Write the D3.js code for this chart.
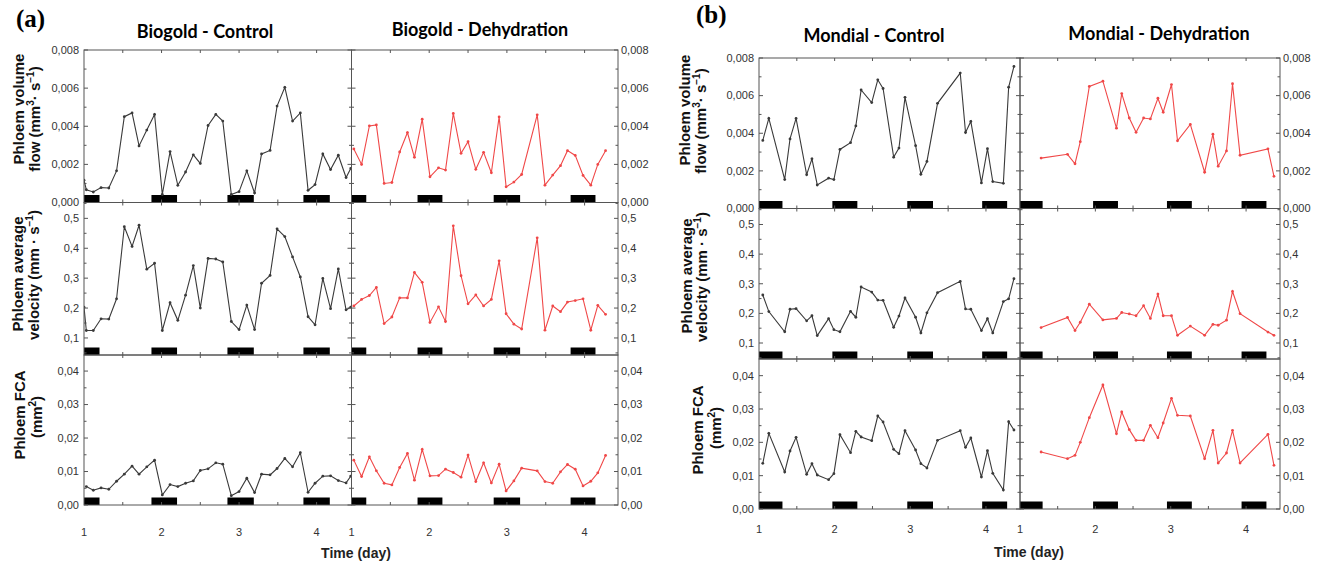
<!DOCTYPE html>
<html>
<head>
<meta charset="UTF-8">
<title>Phloem flow - Biogold / Mondial</title>
<script src="https://d3js.org/d3.v7.min.js"></script>
<style>
body { margin: 0; background: #fff; }
.tl { font-family: "Liberation Sans", Arial, sans-serif; font-size: 11px; fill: #333; }
.ylab { font-family: "Liberation Sans", Arial, sans-serif; font-weight: bold; font-size: 15px; fill: #111; }
.title { font-family: Lato, sans-serif; font-weight: bold; font-size: 18px; fill: #000; }
.panel { font-family: "Liberation Serif", "Times New Roman", serif; font-weight: bold; font-size: 25px; fill: #000; }
.xt { font-family: "Liberation Sans", Arial, sans-serif; font-weight: bold; font-size: 14px; fill: #222; }
</style>
</head>
<body>
<script>
// ---- data ----
// (a) Biogold - Control
var daysBioCtrl = [1.00,1.03,1.12,1.22,1.32,1.42,1.52,1.62,1.71,1.81,1.91,2.01,2.11,2.21,2.31,2.41,2.50,2.60,2.70,2.79,2.90,3.00,3.10,3.20,3.29,3.40,3.49,3.59,3.69,3.79,3.89,3.98,4.08,4.18,4.28,4.38,4.44];
var flowBioCtrl = [0.00117,0.00067,0.00055,0.00078,0.00076,0.00166,0.0045,0.0047,0.00297,0.0038,0.00462,0.00042,0.00267,0.0009,0.0016,0.0025,0.00205,0.00404,0.00462,0.00427,0.00042,0.00057,0.00166,0.0005,0.00255,0.00273,0.00506,0.00604,0.00427,0.0047,0.00064,0.00094,0.00255,0.00173,0.00248,0.00131,0.00179];
var velBioCtrl = [0.203,0.125,0.125,0.164,0.163,0.231,0.472,0.406,0.477,0.330,0.350,0.125,0.218,0.159,0.243,0.342,0.200,0.366,0.364,0.354,0.155,0.128,0.210,0.128,0.283,0.309,0.465,0.439,0.371,0.304,0.171,0.144,0.299,0.198,0.331,0.194,0.203];
var fcaBioCtrl = [null,0.0055,0.0044,0.0051,0.0047,0.0071,0.0092,0.0116,0.0092,0.0114,0.0134,0.0030,0.0061,0.0055,0.0065,0.0072,0.0103,0.0108,0.0126,0.0122,0.0028,0.0040,0.0080,0.0037,0.0092,0.0090,0.0109,0.0139,0.0114,0.0156,0.0038,0.0065,0.0086,0.0087,0.0073,0.0066,0.0086];

// (a) Biogold - Dehydration
var daysBioDehy = [1.03,1.13,1.23,1.32,1.42,1.52,1.62,1.72,1.81,1.91,2.01,2.12,2.21,2.31,2.41,2.50,2.60,2.70,2.80,2.90,2.99,3.09,3.19,3.39,3.49,3.59,3.69,3.78,3.88,3.98,4.08,4.17,4.27];
var flowBioDehy = [0.00281,0.0020,0.00402,0.00407,0.0010,0.00105,0.00265,0.00367,0.00237,0.00437,0.00135,0.00182,0.0017,0.00467,0.00258,0.00319,0.00174,0.00263,0.00156,0.00449,0.00082,0.00107,0.00147,0.0046,0.00091,0.00144,0.00193,0.00272,0.00247,0.00142,0.00091,0.0020,0.00272];
var velBioDehy = [0.207,0.229,0.242,0.269,0.148,0.170,0.234,0.234,0.319,0.286,0.152,0.204,0.155,0.475,0.308,0.214,0.244,0.207,0.229,0.358,0.181,0.146,0.130,0.435,0.126,0.207,0.188,0.220,0.225,0.231,0.126,0.209,0.179];
var fcaBioDehy = [0.0134,0.0085,0.0144,0.0102,0.0065,0.0060,0.0112,0.0154,0.0074,0.0166,0.0087,0.0088,0.0107,0.0097,0.0083,0.0149,0.0070,0.0126,0.0066,0.0122,0.0042,0.0072,0.0110,0.0102,0.0070,0.0065,0.0099,0.0121,0.0107,0.0057,0.0071,0.0096,0.0148];

// (b) Mondial - Control
var daysMonCtrl = [1.05,1.13,1.34,1.41,1.49,1.63,1.70,1.77,1.92,1.99,2.07,2.21,2.28,2.35,2.49,2.57,2.64,2.78,2.85,2.93,3.07,3.14,3.22,3.36,3.66,3.73,3.80,3.94,4.02,4.09,4.23,4.30,4.37];
var flowMonCtrl = [0.00362,0.00479,0.00154,0.0037,0.00479,0.0018,0.00264,0.00125,0.00161,0.00154,0.00314,0.0035,0.00439,0.0063,0.00563,0.00684,0.00638,0.00273,0.00321,0.00591,0.00334,0.00182,0.0025,0.00559,0.0072,0.00404,0.00463,0.00136,0.00318,0.00143,0.00134,0.00645,0.00755];
var velMonCtrl = [0.262,0.206,0.138,0.214,0.216,0.175,0.192,0.125,0.182,0.145,0.138,0.207,0.187,0.289,0.272,0.245,0.244,0.153,0.191,0.252,0.187,0.134,0.202,0.270,0.308,0.215,0.214,0.142,0.182,0.134,0.240,0.249,0.317];
var fcaMonCtrl = [0.0137,0.0227,0.0111,0.0174,0.0215,0.0104,0.0136,0.0102,0.0088,0.0106,0.0223,0.0169,0.0233,0.0216,0.0205,0.0279,0.0261,0.0179,0.0166,0.0235,0.0177,0.0136,0.0123,0.0206,0.0235,0.0185,0.0213,0.0096,0.0175,0.0107,0.0057,0.0262,0.0237];

// (b) Mondial - Dehydration
var daysMonDehy = [1.28,1.63,1.73,1.80,1.92,2.10,2.28,2.35,2.45,2.54,2.64,2.73,2.83,2.90,3.01,3.09,3.26,3.45,3.56,3.63,3.74,3.82,3.92,4.29,4.37];
var flowMonDehy = [0.00268,0.00288,0.00238,0.00355,0.00649,0.00677,0.00427,0.00611,0.00481,0.00405,0.00481,0.00476,0.00586,0.00512,0.00659,0.0036,0.00447,0.00193,0.00395,0.00225,0.00306,0.00663,0.00283,0.00317,0.00171];
var velMonDehy = [0.152,0.186,0.142,0.170,0.231,0.178,0.183,0.203,0.198,0.192,0.226,0.183,0.265,0.192,0.192,0.126,0.157,0.126,0.163,0.160,0.177,0.274,0.199,0.137,0.126];
var fcaMonDehy = [0.0171,0.0151,0.0161,0.0200,0.0274,0.0372,0.0226,0.0291,0.0238,0.0206,0.0206,0.0251,0.0214,0.0258,0.0332,0.0281,0.0279,0.0151,0.0236,0.0138,0.0168,0.0236,0.0138,0.0224,0.0131];

// night periods (black bars), in days
var nightsBioCtrl = [[0.85,1.20],[1.87,2.20],[2.85,3.19],[3.83,4.17]];
var nightsBioDehy = [[0.85,1.19],[1.85,2.17],[2.83,3.17],[3.82,4.14]];
var nightsMonCtrl = [[0.97,1.31],[1.97,2.30],[2.96,3.30],[3.95,4.28]];
var nightsMonDehy = [[0.97,1.30],[1.97,2.30],[2.95,3.28],[3.94,4.27]];

// ticks
var dayTicks = [1, 2, 3, 4];
var dayMinor = [1.5, 2.5, 3.5];
var flowTicks = [0, 0.002, 0.004, 0.006, 0.008];
var flowMinor = [0.001, 0.003, 0.005, 0.007];
var velTicks = [0.1, 0.2, 0.3, 0.4, 0.5];
var velMinor = [0.05, 0.15, 0.25, 0.35, 0.45, 0.55];
var fcaTicks = [0, 0.01, 0.02, 0.03, 0.04];
var fcaMinor = [0.005, 0.015, 0.025, 0.035];

var titles = ['Biogold - Control', 'Biogold - Dehydration', 'Mondial - Control', 'Mondial - Dehydration'];

var black = '#3a3a3a', red = '#f04848';

function commaFmt(spec) {
  var f = d3.format(spec);
  return function(v) { return f(v).replace('.', ','); };
}
var rowTicks = [
  {major: flowTicks, minor: flowMinor, fmt: commaFmt('.3f')},
  {major: velTicks, minor: velMinor, fmt: commaFmt('.1f')},
  {major: fcaTicks, minor: fcaMinor, fmt: commaFmt('.2f')}
];

var svg = d3.select('body').append('svg')
  .attr('width', 1322)
  .attr('height', 569)
  .style('background-color', '#fff');

var figA = {x0: 84, xm: 351.5, x1: 618, rows: [50, 202.5, 355, 505], xMaxL: 4.45, xMaxR: 4.43,
  yDomains: [[0, 0.008], [0.043, 0.553], [0, 0.0448]], xLabelY: 536};
var figB = {x0: 759, xm: 1020, x1: 1280, rows: [58, 208.5, 359, 509], xMaxL: 4.45, xMaxR: 4.45,
  yDomains: [[0, 0.008], [0.046, 0.554], [0, 0.045]], xLabelY: 533};

var clipN = 0;

function drawPlot(fig, side, days, series, color, nights) {
  var xa = side == 'left' ? fig.x0 : fig.xm;
  var xb = side == 'left' ? fig.xm : fig.x1;
  var x = d3.scaleLinear().domain([1, side == 'left' ? fig.xMaxL : fig.xMaxR]).range([xa, xb]);

  series.forEach(function(vals, i) {
    var top = fig.rows[i], bot = fig.rows[i + 1];
    var yd = fig.yDomains[i];
    var y = d3.scaleLinear().domain(yd).range([bot, top]);
    var inDom = function(v) { return v >= yd[0] - 1e-9 && v <= yd[1] + 1e-9; };
    var id = 'clip' + (clipN++);
    svg.append('clipPath').attr('id', id)
      .append('rect').attr('x', xa).attr('y', top).attr('width', xb - xa).attr('height', bot - top);

    var g = svg.append('g');
    var inner = g.append('g').attr('clip-path', 'url(#' + id + ')');

    inner.selectAll('rect.night')
      .data(nights)
      .enter().append('rect')
        .attr('class', 'night')
        .attr('x', d => x(d[0]))
        .attr('width', d => x(d[1]) - x(d[0]))
        .attr('y', bot - 7.5)
        .attr('height', 7.5)
        .attr('fill', '#000');

    var pts = days.map((d, k) => [d, vals[k]]).filter(p => p[1] != null);
    inner.append('path')
      .datum(pts)
      .attr('d', d3.line().x(p => x(p[0])).y(p => y(p[1])))
      .attr('fill', 'none')
      .attr('stroke', color)
      .attr('stroke-width', 1.1);
    inner.selectAll('circle')
      .data(pts)
      .enter().append('circle')
        .attr('cx', p => x(p[0]))
        .attr('cy', p => y(p[1]))
        .attr('r', 1.4)
        .attr('fill', color);

    // inward ticks on all four edges
    var tk = rowTicks[i];
    var major = tk.major.filter(inDom), minor = tk.minor.filter(inDom);
    var ticks = g.append('g').attr('stroke', '#555').attr('stroke-width', 1);
    [[xa, 1], [xb, -1]].forEach(function(e) {
      ticks.selectAll(null).data(major).enter().append('line')
        .attr('x1', e[0]).attr('x2', e[0] + e[1] * 4)
        .attr('y1', d => y(d)).attr('y2', d => y(d));
      ticks.selectAll(null).data(minor).enter().append('line')
        .attr('x1', e[0]).attr('x2', e[0] + e[1] * 2.5)
        .attr('y1', d => y(d)).attr('y2', d => y(d));
    });
    [[top, 1], [bot, -1]].forEach(function(e) {
      ticks.selectAll(null).data(dayTicks.concat(dayMinor).filter(d => x(d) > xa + 1 && x(d) < xb - 1)).enter().append('line')
        .attr('y1', e[0]).attr('y2', e[0] + e[1] * 3)
        .attr('x1', d => x(d)).attr('x2', d => x(d));
    });

    g.append('rect')
      .attr('x', xa).attr('y', top)
      .attr('width', xb - xa).attr('height', bot - top)
      .attr('fill', 'none')
      .attr('stroke', '#555')
      .attr('stroke-width', 1);

    // value labels: left of left plot, right of right plot
    g.selectAll('text.tl')
      .data(major)
      .enter().append('text')
        .attr('class', 'tl')
        .attr('x', side == 'left' ? xa - 5 : xb + 3)
        .attr('y', d => y(d))
        .attr('dy', '0.35em')
        .attr('text-anchor', side == 'left' ? 'end' : 'start')
        .text(tk.fmt);

    if (i == 2) {
      svg.selectAll(null)
        .data(dayTicks)
        .enter().append('text')
          .attr('class', 'tl')
          .attr('x', d => x(d))
          .attr('y', fig.xLabelY)
          .attr('text-anchor', 'middle')
          .text(d => d);
    }
  });
}

drawPlot(figA, 'left', daysBioCtrl, [flowBioCtrl, velBioCtrl, fcaBioCtrl], black, nightsBioCtrl);
drawPlot(figA, 'right', daysBioDehy, [flowBioDehy, velBioDehy, fcaBioDehy], red, nightsBioDehy);
drawPlot(figB, 'left', daysMonCtrl, [flowMonCtrl, velMonCtrl, fcaMonCtrl], black, nightsMonCtrl);
drawPlot(figB, 'right', daysMonDehy, [flowMonDehy, velMonDehy, fcaMonDehy], red, nightsMonDehy);

// titles
[[205, 38], [480, 36], [874, 42], [1159, 40]].forEach(function(p, i) {
  svg.append('text').attr('class', 'title')
    .attr('x', p[0]).attr('y', p[1])
    .attr('text-anchor', 'middle')
    .text(titles[i]);
});
svg.append('text').attr('class', 'panel').attr('x', 16).attr('y', 27).text('(a)');
svg.append('text').attr('class', 'panel').attr('x', 696).attr('y', 23).text('(b)');

// axis titles (rotated, two lines)
function rotText(xp, yp) {
  return svg.append('text').attr('class', 'ylab')
    .attr('text-anchor', 'middle')
    .attr('transform', 'translate(' + xp + ',' + yp + ') rotate(-90)');
}
function sup(t, s) {
  t.append('tspan').attr('font-size', '10px').attr('dy', -6).text(s);
}
function back(t, s) {
  t.append('tspan').attr('dy', 6).text(s);
}
function flowLabel(cx, cy1, cx2, cy2) {
  rotText(cx, cy1).text('Phloem volume');
  var t = rotText(cx2, cy2);
  t.append('tspan').text('flow (mm');
  sup(t, '3');
  back(t, '· s');
  sup(t, '−1');
  back(t, ')');
}
function velLabel(cx, cy1, cx2, cy2) {
  rotText(cx, cy1).text('Phloem average');
  var t = rotText(cx2, cy2);
  t.append('tspan').text('velocity (mm · s');
  sup(t, '−1');
  back(t, ')');
}
function fcaLabel(cx, cy1, cx2, cy2) {
  rotText(cx, cy1).text('Phloem FCA');
  var t = rotText(cx2, cy2);
  t.append('tspan').text('(mm');
  sup(t, '2');
  back(t, ')');
}
flowLabel(24, 109, 40, 119);
velLabel(23, 274, 39, 275);
fcaLabel(25, 415, 42, 417);
flowLabel(690, 110, 706, 121);
velLabel(692, 276, 707, 277);
fcaLabel(703, 430, 721, 428);

// x axis titles
svg.append('text').attr('class', 'xt').attr('x', 356).attr('y', 558).attr('text-anchor', 'middle').text('Time (day)');
svg.append('text').attr('class', 'xt').attr('x', 1029).attr('y', 557).attr('text-anchor', 'middle').text('Time (day)');
</script>
</body>
</html>
